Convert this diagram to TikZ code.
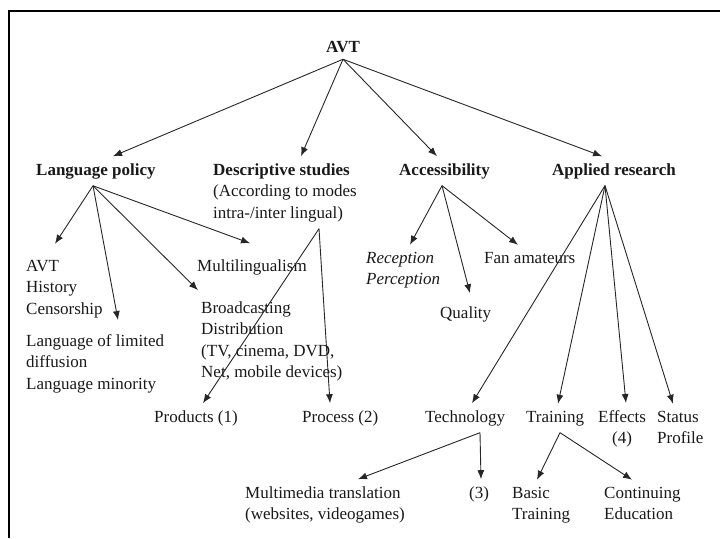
\documentclass[tikz,border=0pt]{standalone}
\usepackage{fontspec}
\setmainfont{Liberation Serif}
\usetikzlibrary{arrows.meta}
\newcommand{\bodyfont}{\fontsize{17}{21.5}\selectfont}
\newcommand{\txtnode}[5][]{%
\node[txt,#1] (#2) at (#3,#4) {#5};
}
\tikzset{
txt/.style={anchor=base west, inner sep=0pt, outer ysep=7pt, align=left, font=\bodyfont, text=black!90},
head/.style={font=\bodyfont\bfseries},
arr/.style={-{Latex[length=9pt,width=7pt]}, line width=0.9pt, draw=black!85}
}

\begin{document}
\begin{tikzpicture}[x=1pt,y=-1pt]
\useasboundingbox (0,0) rectangle (720,538);

\draw[line width=2pt] (9,538) -- (9,11) -- (720,11);

% base of a node with lines is on its last line
\txtnode[head,anchor=base]{avt}{343}{52}{AVT}

\txtnode[head]{lp}{36}{175}{Language policy}
\txtnode{ds}{213}{218}{\textbf{Descriptive studies}\\(According to modes\\intra-/inter lingual)}
\txtnode[head]{acc}{399}{175}{Accessibility}
\txtnode[head]{app}{552}{175}{Applied research}

\txtnode{hist}{26}{314}{AVT\\History\\Censorship}
\txtnode{lim}{26}{389}{Language of limited\\diffusion\\Language minority}
\txtnode{multi}{197}{271}{Multilingualism}
\txtnode{broad}{201}{377.5}{Broadcasting\\Distribution\\(TV, cinema, DVD,\\Net, mobile devices)}
\txtnode{prod}{154}{422}{Products (1)}
\txtnode{proc}{302}{422}{Process (2)}

\txtnode[font=\bodyfont\itshape]{rec}{366}{284.5}{Reception\\Perception}
\txtnode{fan}{484}{263}{Fan amateurs}
\txtnode{qual}{440}{318}{Quality}

\txtnode{tech}{425}{422}{Technology}
\txtnode{train}{526}{422}{Training}
\txtnode[align=center]{eff}{598}{443.5}{Effects\\(4)}
\txtnode{stat}{657}{443.5}{Status\\Profile}

\txtnode{mm}{245}{519.5}{Multimedia translation\\(websites, videogames)}
\txtnode{three}{469}{498}{(3)}
\txtnode{basic}{512}{519.5}{Basic\\Training}
\txtnode{cont}{604}{519.5}{Continuing\\Education}

\draw[arr] (avt.south) -- ([xshift=77pt]lp.north west);
\draw[arr] (avt.south) -- ([xshift=88pt]ds.north west);
\draw[arr] (avt.south) -- ([xshift=38pt]acc.north west);
\draw[arr] (avt.south) -- ([xshift=50pt]app.north west);

\draw[arr] ([xshift=57pt]lp.south west) -- ([xshift=29pt,yshift=9pt]hist.north west);
\draw[arr] ([xshift=57pt]lp.south west) -- ([xshift=92pt,yshift=7pt]lim.north west);
\draw[arr] ([xshift=57pt]lp.south west) -- ([xshift=-3pt,yshift=4pt]broad.north west);
\draw[arr] ([xshift=57pt]lp.south west) -- ([xshift=53pt,yshift=9pt]multi.north west);

\draw[arr] ([xshift=106pt]ds.south west) -- ([xshift=49pt]prod.north west);
\draw[arr] ([xshift=106pt]ds.south west) -- ([xshift=28pt]proc.north west);

\draw[arr] ([xshift=43pt]acc.south west) -- ([xshift=44pt]rec.north west);
\draw[arr] ([xshift=43pt]acc.south west) -- ([xshift=30pt,yshift=6pt]qual.north west);
\draw[arr] ([xshift=43pt]acc.south west) -- ([xshift=34pt]fan.north west);

\draw[arr] ([xshift=53pt]app.south west) -- ([xshift=47pt]tech.north west);
\draw[arr] ([xshift=53pt]app.south west) -- ([xshift=32pt]train.north west);
\draw[arr] ([xshift=53pt]app.south west) -- ([xshift=28pt]eff.north west);
\draw[arr] ([xshift=53pt]app.south west) -- ([xshift=16pt]stat.north west);

\draw[arr] ([xshift=55pt]tech.south west) -- ([xshift=113pt]mm.north west);
\draw[arr] ([xshift=55pt]tech.south west) -- ([xshift=12pt]three.north west);

\draw[arr] ([xshift=34pt]train.south west) -- ([xshift=25pt]basic.north west);
\draw[arr] ([xshift=34pt]train.south west) -- ([xshift=28pt]cont.north west);

\end{tikzpicture}
\end{document}
